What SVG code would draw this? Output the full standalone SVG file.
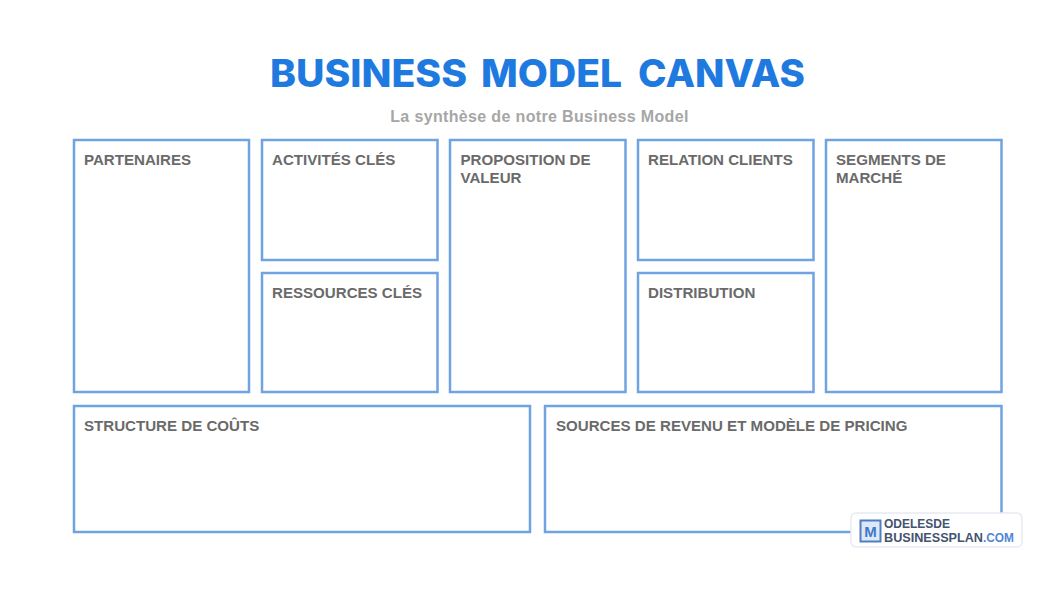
<svg xmlns="http://www.w3.org/2000/svg" width="1063" height="590" viewBox="0 0 1063 590">
  <style>
    .box { fill: #ffffff; stroke: #6fa3e2; stroke-width: 2.5; }
    .label { font-family: "Liberation Sans", Arial, sans-serif; font-weight: 700; font-size: 15.1px; fill: #6a6a6a; }
    .title { font-family: Inter, "Liberation Sans", sans-serif; font-weight: 800; font-size: 38px; fill: #1f7ae0; }
    .sub { font-family: "Liberation Sans", Arial, sans-serif; font-weight: 700; font-size: 16px; fill: #a6a6a6; letter-spacing: 0.35px; }
    .brand { font-family: "Liberation Sans", Arial, sans-serif; font-weight: 700; font-size: 12px; fill: #44546f; }
  </style>
  <rect width="1063" height="590" fill="#ffffff"/>
  <text class="title" y="87">
    <tspan x="270" textLength="197" lengthAdjust="spacingAndGlyphs">BUSINESS</tspan>
    <tspan x="481" textLength="141" lengthAdjust="spacingAndGlyphs">MODEL</tspan>
    <tspan x="638" textLength="167" lengthAdjust="spacingAndGlyphs">CANVAS</tspan>
  </text>
  <text class="sub" x="539.5" y="122" text-anchor="middle">La synthèse de notre Business Model</text>

  <g id="partenaires">
    <rect class="box" x="74" y="140" width="175" height="252"/>
    <text class="label" x="84" y="165">PARTENAIRES</text>
  </g>
  <g id="activites-cles">
    <rect class="box" x="262" y="140" width="175.500" height="120"/>
    <text class="label" x="272" y="165">ACTIVITÉS CLÉS</text>
  </g>
  <g id="ressources-cles">
    <rect class="box" x="262" y="273" width="175.500" height="119"/>
    <text class="label" x="272" y="298">RESSOURCES CLÉS</text>
  </g>
  <g id="proposition-de-valeur">
    <rect class="box" x="450" y="140" width="175.500" height="252"/>
    <text class="label" x="460.500" y="165">PROPOSITION DE</text>
    <text class="label" x="460.500" y="183">VALEUR</text>
  </g>
  <g id="relation-clients">
    <rect class="box" x="638" y="140" width="175.500" height="120"/>
    <text class="label" x="648" y="165">RELATION CLIENTS</text>
  </g>
  <g id="distribution">
    <rect class="box" x="638" y="273" width="175.500" height="119"/>
    <text class="label" x="648" y="298">DISTRIBUTION</text>
  </g>
  <g id="segments-de-marche">
    <rect class="box" x="826" y="140" width="175.500" height="252"/>
    <text class="label" x="836" y="165">SEGMENTS DE</text>
    <text class="label" x="836" y="183">MARCHÉ</text>
  </g>
  <g id="structure-de-couts">
    <rect class="box" x="74" y="406" width="456" height="126"/>
    <text class="label" x="84" y="431">STRUCTURE DE COÛTS</text>
  </g>
  <g id="sources-de-revenu">
    <rect class="box" x="545" y="406" width="456.500" height="126"/>
    <text class="label" x="556" y="431">SOURCES DE REVENU ET MODÈLE DE PRICING</text>
  </g>

  <g id="badge">
    <rect x="851" y="513" width="171" height="34" rx="5" fill="#ffffff" stroke="#e6eaf3" stroke-width="1.5"/>
    <rect x="860.500" y="520.500" width="20" height="21" fill="#dce8f8" stroke="#4f7fc0" stroke-width="2"/>
    <text x="870.500" y="537" text-anchor="middle" font-family="Liberation Sans, Arial, sans-serif" font-weight="700" font-size="15" fill="#3f78c8">M</text>
    <text class="brand" x="884" y="528" textLength="66" lengthAdjust="spacing">ODELESDE</text>
    <text class="brand" x="884" y="542" textLength="99" lengthAdjust="spacingAndGlyphs">BUSINESSPLAN</text>
    <text class="brand" x="983" y="542" textLength="31" lengthAdjust="spacingAndGlyphs" style="fill:#4f86d6">.COM</text>
  </g>
</svg>
